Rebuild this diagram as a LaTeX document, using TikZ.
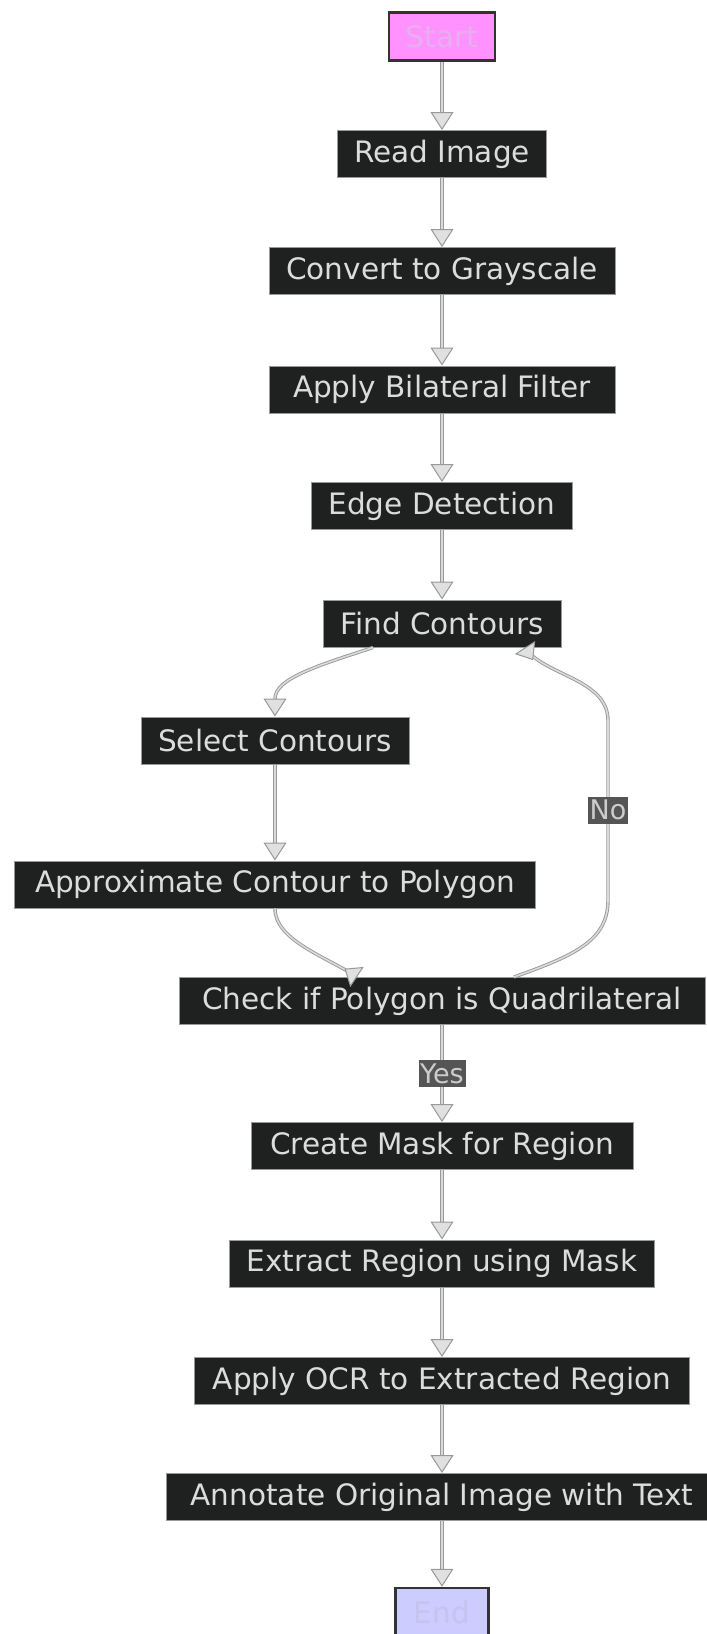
\documentclass[tikz,border=0pt]{standalone}
\usepackage{fontspec}
\setmainfont{DejaVu Sans}
\usetikzlibrary{arrows.meta,calc}
\definecolor{nodebg}{HTML}{1F2020}
\definecolor{nodeline}{HTML}{9A9A9A}
\definecolor{nodetext}{HTML}{DCDCDC}
\definecolor{startfill}{HTML}{FF92FF}
\definecolor{starttext}{HTML}{E8AEEE}
\definecolor{endfill}{HTML}{CCCCFF}
\definecolor{endtext}{HTML}{C4C4EE}
\definecolor{termline}{HTML}{333333}
\definecolor{labeltext}{HTML}{CCCCCC}
\definecolor{labelbg}{HTML}{555555}
\definecolor{edgeline}{HTML}{999999}
\definecolor{edgecore}{HTML}{DADADA}
\definecolor{tipfill}{HTML}{E0E0E0}

\tikzset{
  proc/.style={draw=nodeline, line width=1pt, fill=nodebg, text=nodetext,
    font=\fontsize{29.5}{35}\selectfont, inner xsep=17pt, inner ysep=0pt,
    minimum height=47pt},
  term/.style={proc, draw=termline, line width=2.5pt, minimum height=48pt},
  elabel/.style={fill=labelbg, text=labeltext, font=\fontsize{27}{30}\selectfont,
    inner xsep=1pt, inner ysep=0pt, minimum height=27pt},
  flow/.style={draw=edgeline, line width=0.9pt, double=edgecore, double distance=1.6pt},
  arrowin/.style={flow, -{Triangle[length=18pt,width=23pt,fill=tipfill,line width=1pt]}},
  arrowback/.style={flow, -{Triangle[reversed,length=15pt,width=24pt,fill=tipfill,line width=1pt]}},
}

\begin{document}
\begin{tikzpicture}[x=1pt,y=-1pt]
  \clip (0,0) rectangle (707,1634);
  \fill[white] (0,0) rectangle (707,1634);

  % main column of steps
  \node[term, fill=startfill, text=starttext, minimum width=106pt] (start) at (442,36.5) {Start};
  \node[proc, minimum width=206pt] (read)    at (442,154)   {Read Image};
  \node[proc, minimum width=346pt] (gray)    at (442,271)   {Convert to Grayscale};
  \node[proc, minimum width=346pt] (bilat)   at (442,389.5) {Apply Bilateral Filter};
  \node[proc, minimum width=260pt] (edges)   at (442,506)   {Edge Detection};
  \node[proc, minimum width=238pt] (find)    at (442,623.5) {Find Contours};
  \node[proc, minimum width=268pt] (select)  at (275,740.5) {Select Contours};
  \node[proc, minimum width=521pt] (approx)  at (275,884.5) {Approximate Contour to Polygon};
  \node[proc, minimum width=526pt] (check)   at (442,1001)  {Check if Polygon is Quadrilateral};
  \node[proc, minimum width=382pt] (mask)    at (442,1146)  {Create Mask for Region};
  \node[proc, minimum width=421pt] (extract) at (442,1263.5) {Extract Region using Mask};
  \node[proc, minimum width=495pt] (ocr)     at (442,1381) {Apply OCR to Extracted Region};
  \node[proc, minimum width=552pt] (annot)   at (442,1497)  {Annotate Original Image with Text};
  \node[term, fill=endfill, text=endtext, minimum width=93pt] (end) at (442,1612) {End};

  % straight connectors
  \draw[arrowin] (start) -- (read);
  \draw[arrowin] (read) -- (gray);
  \draw[arrowin] (gray) -- (bilat);
  \draw[arrowin] (bilat) -- (edges);
  \draw[arrowin] (edges) -- (find);
  \draw[arrowin] (select) -- (approx);
  \draw[arrowin] (check) -- node[elabel, minimum width=47pt] {Yes} (mask);
  \draw[arrowin] (mask) -- (extract);
  \draw[arrowin] (extract) -- (ocr);
  \draw[arrowin] (ocr) -- (annot);
  \draw[arrowin] (annot) -- (end);

  % curved connectors
  \draw[arrowin] ([xshift=-69pt]find.south) .. controls +(-55,18) and +(0,-38) .. (select.north);
  \draw[arrowback] (approx.south) .. controls +(0,32) and +(-30,-20) .. ([xshift=-85pt]check.north);

  % loop back when the polygon is not a quadrilateral
  \coordinate (nolow) at ($(check.north)+(166,-77)$);
  \coordinate (nohigh) at ($(find.south)+(166,73)$);
  \draw[arrowback] ([xshift=72pt]check.north) .. controls +(62,-22) and +(0,40) .. (nolow)
    -- node[elabel, minimum width=40pt] {No} (nohigh)
    .. controls +(0,-42) and +(18,28) .. ([xshift=83pt]find.south);
\end{tikzpicture}
\end{document}
